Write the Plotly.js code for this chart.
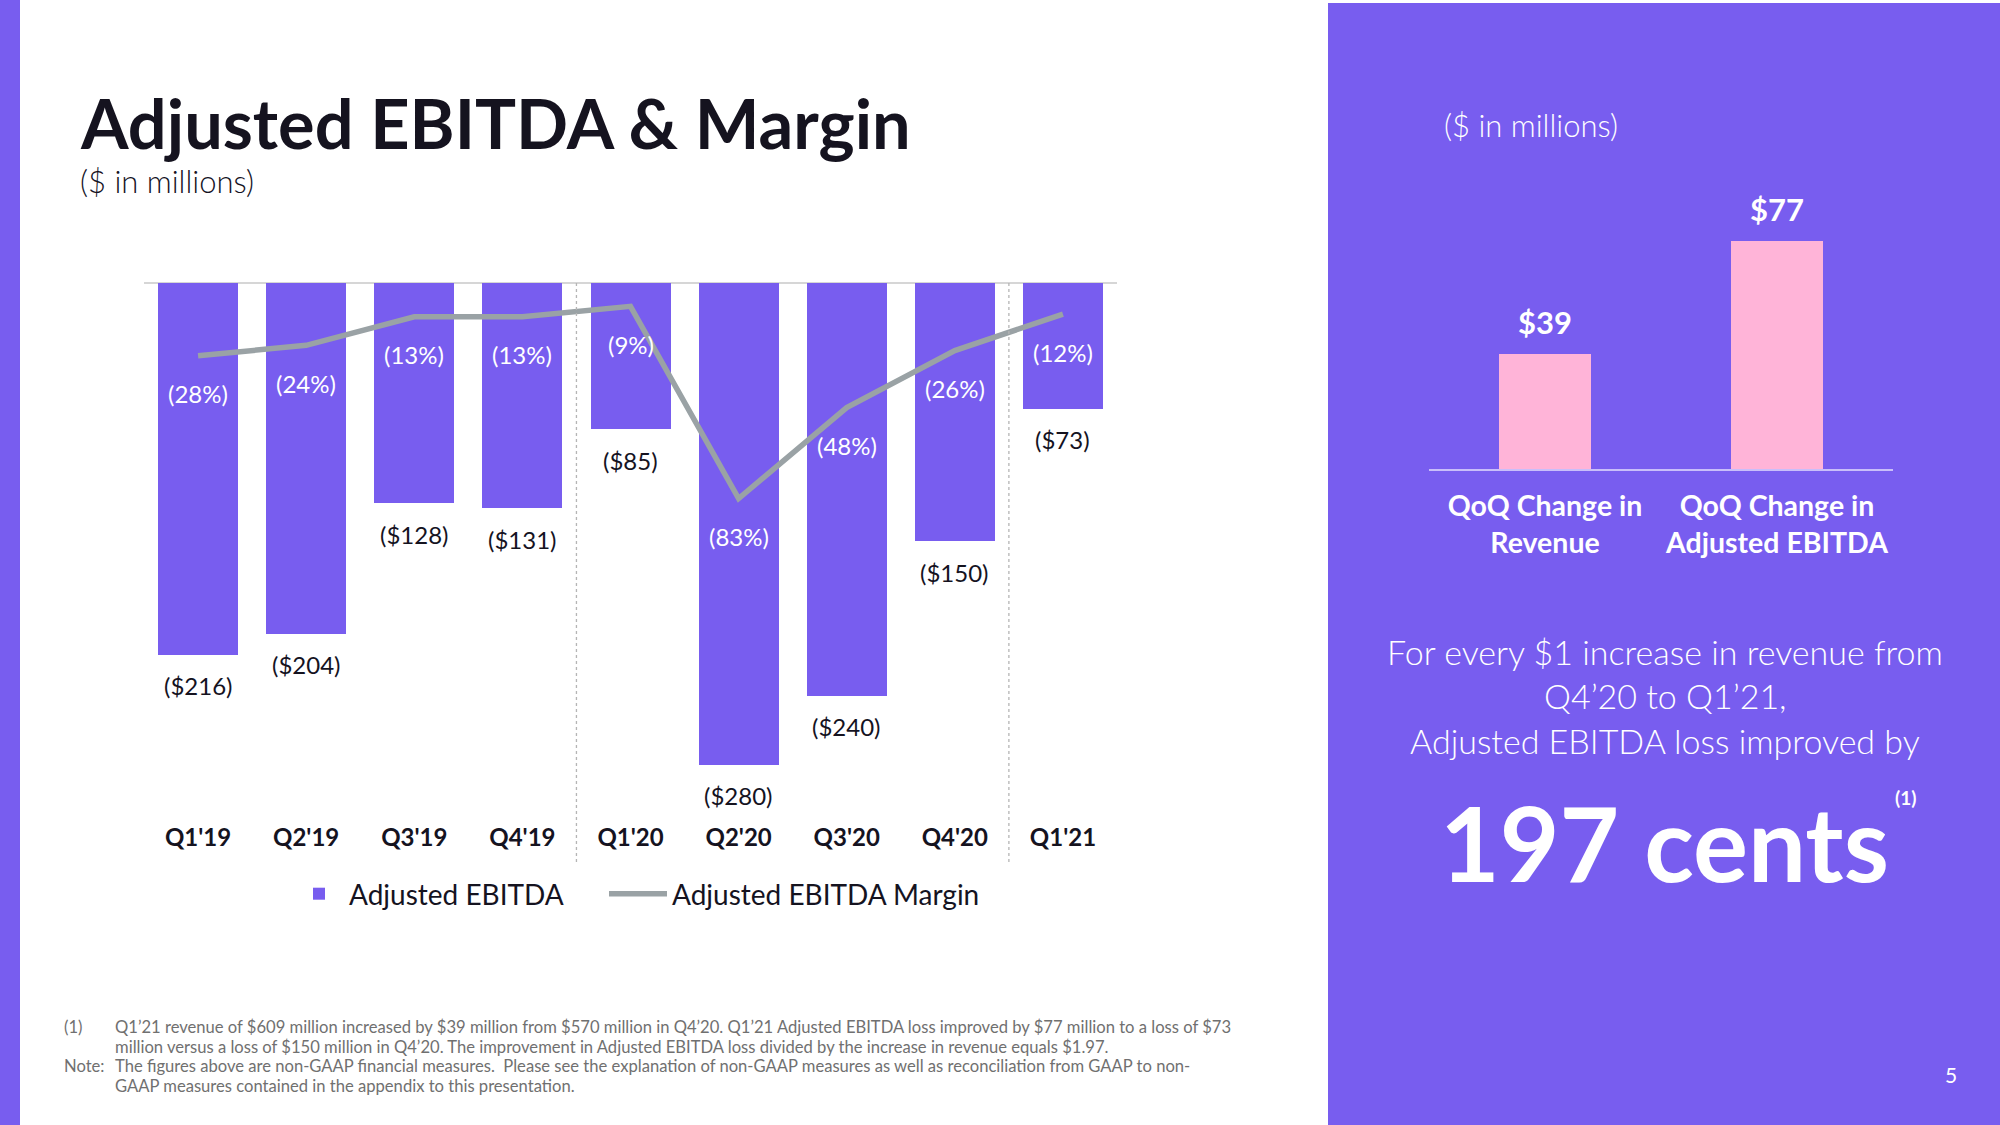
<!DOCTYPE html>
<html>
<head>
<meta charset="utf-8">
<script src="https://cdn.plot.ly/plotly-3.0.1.min.js"></script>
<style>
html,body{margin:0;padding:0;background:#ffffff;}
#chart{width:2000px;height:1125px;}
</style>
</head>
<body>
<div id="chart"></div>
<script>
// ---- data ----
const quarters = ["Q1'19","Q2'19","Q3'19","Q4'19","Q1'20","Q2'20","Q3'20","Q4'20","Q1'21"];
const adjEbitda = [-216, -204, -128, -131, -85, -280, -240, -150, -73];
const adjEbitdaMargin = [-28, -24, -13, -13, -9, -83, -48, -26, -12];
const qoqCategories = ["QoQ Change in<br>Revenue", "QoQ Change in<br>Adjusted EBITDA"];
const qoqValues = [39, 77];

// ---- styling ----
const PURPLE = '#785DEF';
const PINK = '#FFB4D8';
const LINEGRAY = '#9AA2A5';
const FONT = 'Lato, "Open Sans", sans-serif';
const W = 2000, H = 1125;
const px = x => x / W;
const py = y => 1 - y / H;

const money = v => '($' + Math.abs(v) + ')';
const pct = v => '(' + Math.abs(v) + '%)';

const traces = [
  {
    type: 'bar', name: 'Adjusted EBITDA', legend: 'legend',
    x: quarters, y: adjEbitda,
    marker: {color: PURPLE}, width: 0.74,
    xaxis: 'x', yaxis: 'y', hoverinfo: 'x+y'
  },
  {
    type: 'scatter', mode: 'lines', name: 'Adjusted EBITDA Margin', legend: 'legend2',
    x: quarters, y: adjEbitdaMargin,
    line: {color: LINEGRAY, width: 5.5},
    xaxis: 'x', yaxis: 'y2'
  },
  {
    type: 'bar', name: 'QoQ', showlegend: false,
    x: qoqCategories, y: qoqValues,
    marker: {color: PINK}, width: 0.4,
    xaxis: 'x2', yaxis: 'y3'
  }
];

const annotations = [];
quarters.forEach((q, i) => {
  annotations.push({
    xref: 'x', yref: 'y', x: q, y: adjEbitda[i], yshift: -31,
    text: money(adjEbitda[i]), showarrow: false, yanchor: 'middle',
    font: {family: FONT, size: 24, color: '#15131f', weight: 400}
  });
  annotations.push({
    xref: 'x', yref: 'y2', x: q, y: adjEbitdaMargin[i], yshift: -38,
    text: pct(adjEbitdaMargin[i]), showarrow: false, yanchor: 'middle',
    font: {family: FONT, size: 24, color: '#ffffff', weight: 400}
  });
});
qoqCategories.forEach((c, i) => {
  annotations.push({
    xref: 'x2', yref: 'y3', x: c, y: qoqValues[i], yshift: 32,
    text: '$' + qoqValues[i], showarrow: false, yanchor: 'middle',
    font: {family: FONT, size: 31, color: '#ffffff', weight: 700}
  });
});

const para = (text, x, y, size, color, opts, weight) => Object.assign({
  xref: 'paper', yref: 'paper', x: px(x), y: py(y), text: text, showarrow: false,
  xanchor: 'left', yanchor: 'middle',
  font: {family: FONT, size: size, color: color, weight: weight || 400}
}, opts || {});

annotations.push(para('<b>Adjusted EBITDA &amp; Margin</b>', 78, 123, 68.5, '#15131f'));
annotations.push(para('($ in millions)', 78, 181, 31, '#15131f', null, 300));
annotations.push(para('($ in millions)', 1442, 125, 31, '#ffffff', null, 300));
annotations.push(para('For every $1 increase in revenue from', 1665, 651, 34, '#ffffff', {xanchor: 'center'}, 300));
annotations.push(para('Q4’20 to Q1’21,', 1665, 695, 34, '#ffffff', {xanchor: 'center'}, 300));
annotations.push(para('Adjusted EBITDA loss improved by', 1665, 740, 34, '#ffffff', {xanchor: 'center'}, 300));
annotations.push(para('<b>197 cents</b>', 1664, 842, 103, '#ffffff', {xanchor: 'center'}));
annotations.push(para('<b>(1)</b>', 1905, 797, 19, '#ffffff', {xanchor: 'center'}));
annotations.push(para('5', 1951, 1074, 21, '#ffffff', {xanchor: 'center'}));
// footnotes
const fnColor = '#707070';
const FN = 16.6;
annotations.push(para('(1)', 62, 1027, FN, fnColor));
annotations.push(para('Q1’21 revenue of $609 million increased by $39 million from $570 million in Q4’20. Q1’21 Adjusted EBITDA loss improved by $77 million to a loss of $73', 113, 1027, FN, fnColor));
annotations.push(para('million versus a loss of $150 million in Q4’20. The improvement in Adjusted EBITDA loss divided by the increase in revenue equals $1.97.', 113, 1046.5, FN, fnColor));
annotations.push(para('Note:', 62, 1066, FN, fnColor));
annotations.push(para('The figures above are non-GAAP financial measures.  Please see the explanation of non-GAAP measures as well as reconciliation from GAAP to non-', 113, 1066, FN, fnColor));
annotations.push(para('GAAP measures contained in the appendix to this presentation.', 113, 1085.5, FN, fnColor));

const shapes = [
  {type: 'rect', xref: 'paper', yref: 'paper', x0: 0, x1: px(20), y0: 0, y1: 1, fillcolor: PURPLE, line: {width: 0}, layer: 'below'},
  {type: 'rect', xref: 'paper', yref: 'paper', x0: px(1328), x1: 1, y0: 0, y1: py(3), fillcolor: PURPLE, line: {width: 0}, layer: 'below'},
  {type: 'line', xref: 'x', yref: 'paper', x0: 3.5, x1: 3.5, y0: py(283), y1: py(862), line: {color: '#b5b5b5', width: 1.3, dash: 'dot'}},
  {type: 'line', xref: 'x', yref: 'paper', x0: 7.5, x1: 7.5, y0: py(283), y1: py(862), line: {color: '#b5b5b5', width: 1.3, dash: 'dot'}}
];

const legendFont = {family: FONT, size: 28, color: '#15131f'};
const plotTop = 283, plotBottom = 815;
const layout = {
  width: W, height: H,
  margin: {l: 0, r: 0, t: 0, b: 0},
  paper_bgcolor: '#ffffff', plot_bgcolor: 'rgba(0,0,0,0)',
  font: {family: FONT},
  bargap: 0,
  showlegend: true,
  legend: {
    orientation: 'h', x: px(289), y: py(894), xanchor: 'left', yanchor: 'middle',
    font: legendFont, bgcolor: 'rgba(0,0,0,0)', itemwidth: 50
  },
  legend2: {
    orientation: 'h', x: px(604), y: py(894), xanchor: 'left', yanchor: 'middle',
    font: legendFont, bgcolor: 'rgba(0,0,0,0)', itemwidth: 58
  },
  xaxis: {
    domain: [px(144), px(1117)], anchor: 'y', type: 'category', range: [-0.5, 8.5],
    showgrid: false, showline: false, zeroline: false, ticks: '',
    tickfont: {family: FONT, size: 24, color: '#15131f', weight: 700},
    ticklabelstandoff: 6, fixedrange: true
  },
  yaxis: {
    domain: [py(plotBottom), py(plotTop)], range: [-(plotBottom - plotTop) / 1.72, 0],
    showgrid: false, showticklabels: false, ticks: '',
    zeroline: true, zerolinecolor: '#d6d6d6', zerolinewidth: 1.5, fixedrange: true
  },
  yaxis2: {
    overlaying: 'y', anchor: 'x', range: [-(plotBottom - plotTop) / 2.597, 0],
    showgrid: false, showticklabels: false, zeroline: false, ticks: '', fixedrange: true
  },
  xaxis2: {
    domain: [px(1429), px(1893)], anchor: 'y3', type: 'category', range: [-0.5, 1.5],
    showgrid: false, showline: true, linecolor: '#c9befa', linewidth: 1.5, zeroline: false, ticks: '',
    tickfont: {family: FONT, size: 28.5, color: '#ffffff', weight: 700},
    ticklabelstandoff: 11, fixedrange: true
  },
  yaxis3: {
    domain: [py(469), py(180)], anchor: 'x2', range: [0, (469 - 180) / 2.96],
    showgrid: false, showticklabels: false, zeroline: false, ticks: '', fixedrange: true
  },
  annotations: annotations,
  shapes: shapes
};

Plotly.newPlot('chart', traces, layout, {displayModeBar: false, staticPlot: true});
</script>
</body>
</html>
